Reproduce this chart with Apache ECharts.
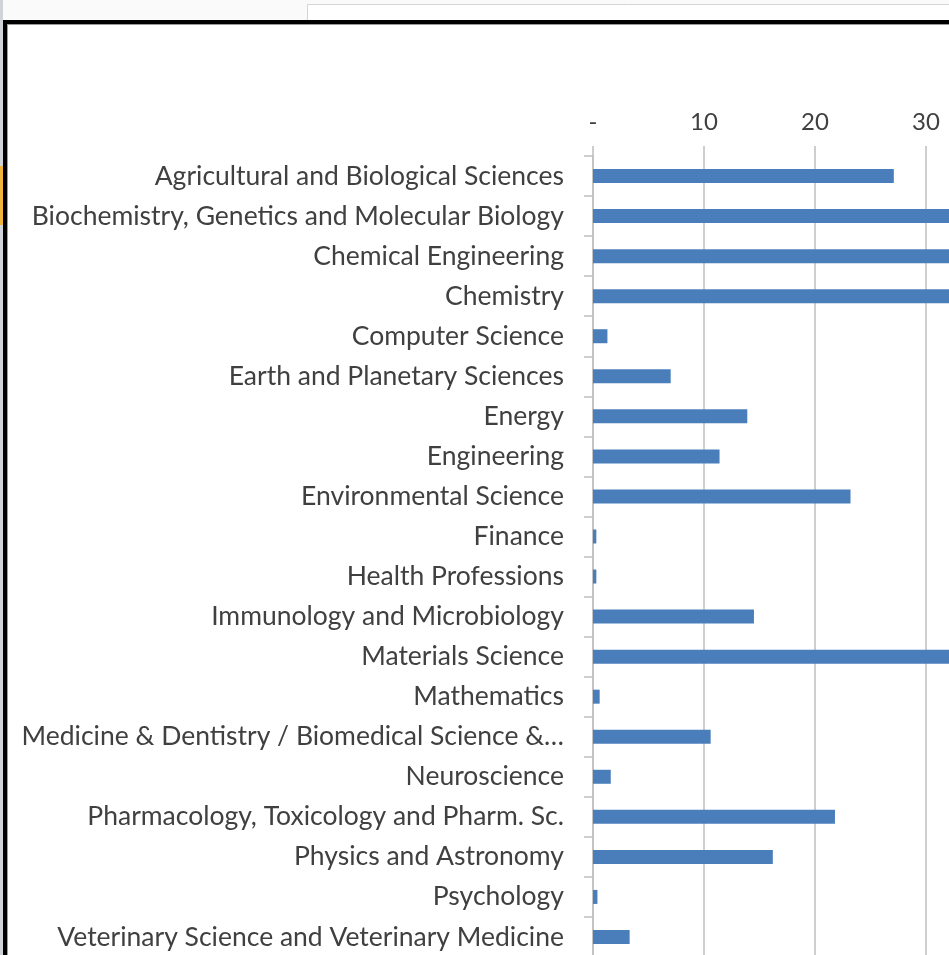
<!DOCTYPE html>
<html>
<head>
<meta charset="utf-8">
<script src="https://cdn.jsdelivr.net/npm/echarts@6/dist/echarts.min.js"></script>
<style>
  html, body { margin: 0; padding: 0; background: #ffffff; }
  #main { width: 949px; height: 955px; }
</style>
</head>
<body>
<div id="main"></div>
<script>
// subject areas, top to bottom as in the sheet
var subjects = [
    'Agricultural and Biological Sciences',
    'Biochemistry, Genetics and Molecular Biology',
    'Chemical Engineering',
    'Chemistry',
    'Computer Science',
    'Earth and Planetary Sciences',
    'Energy',
    'Engineering',
    'Environmental Science',
    'Finance',
    'Health Professions',
    'Immunology and Microbiology',
    'Materials Science',
    'Mathematics',
    'Medicine & Dentistry / Biomedical Science &\u2026',
    'Neuroscience',
    'Pharmacology, Toxicology and Pharm. Sc.',
    'Physics and Astronomy',
    'Psychology',
    'Veterinary Science and Veterinary Medicine'
];

// counts (bars past 32 run off the cropped screenshot, so they are guesses)
var counts = [27.1, 45, 38, 50, 1.3, 7.0, 13.9, 11.4, 23.2, 0.3,
              0.3, 14.5, 42, 0.6, 10.6, 1.6, 21.8, 16.2, 0.4, 3.3];

var valueTicks = [0, 10, 20, 30, 40, 50, 60];

var chartDom = document.getElementById('main');
var myChart = echarts.init(chartDom, null, { renderer: 'canvas' });
var option;

var labelFont = 'Lato, "Open Sans", sans-serif';

option = {
    backgroundColor: '#ffffff',
    animation: false,
    graphic: [
        // excel window bits around the chart frame
        { type: 'rect', z: 0, shape: { x: 0, y: 0, width: 949, height: 20 }, style: { fill: '#fafafa' } },
        { type: 'rect', z: 0, shape: { x: 307.5, y: 4.5, width: 700, height: 20 }, style: { fill: '#ffffff', stroke: '#d4d4d4', lineWidth: 1 } },
        { type: 'rect', z: 0, shape: { x: 0, y: 0, width: 3, height: 955 }, style: { fill: '#d0d3d8' } },
        { type: 'rect', z: 0, shape: { x: 0, y: 166, width: 3, height: 59 }, style: { fill: '#f0b43c' } },
        { type: 'rect', z: 10, shape: { x: 3, y: 20, width: 946, height: 4 }, style: { fill: '#000000' } },
        { type: 'rect', z: 10, shape: { x: 3, y: 20, width: 4, height: 935 }, style: { fill: '#000000' } },
        { type: 'rect', z: 10, shape: { x: 7, y: 24, width: 942, height: 1 }, style: { fill: '#9a9a9a' } },
        { type: 'rect', z: 10, shape: { x: 7, y: 24, width: 1, height: 931 }, style: { fill: '#9a9a9a' } }
    ],
    grid: {
        left: 593,
        top: 156,
        width: 666,
        height: 801,
        containLabel: false,
        outerBoundsMode: 'none'
    },
    xAxis: {
        type: 'value',
        position: 'top',
        min: valueTicks[0],
        max: valueTicks[valueTicks.length - 1],
        interval: 10,
        axisLine: { show: false },
        axisTick: { show: true, inside: false, length: 10, lineStyle: { color: '#bfbfbf', width: 1.5 } },
        splitLine: { show: true, lineStyle: { color: '#bfbfbf', width: 1.5 } },
        axisLabel: {
            margin: 22,
            color: '#404040',
            fontFamily: labelFont,
            fontSize: 24,
            formatter: function (v) {
                return v === 0 ? '-' : String(v);
            }
        }
    },
    yAxis: {
        type: 'category',
        inverse: true,
        data: subjects,
        axisLine: { show: true, lineStyle: { color: '#bfbfbf', width: 1.5 } },
        axisTick: { show: true, length: 9, lineStyle: { color: '#bfbfbf', width: 1.5 } },
        axisLabel: {
            margin: 29,
            color: '#404040',
            fontFamily: labelFont,
            fontSize: 26.5
        }
    },
    series: [
        {
            name: 'Publications',
            type: 'bar',
            data: counts,
            barWidth: 14,
            itemStyle: { color: '#4a7ebb' }
        }
    ]
};

option && myChart.setOption(option);
</script>
</body>
</html>
